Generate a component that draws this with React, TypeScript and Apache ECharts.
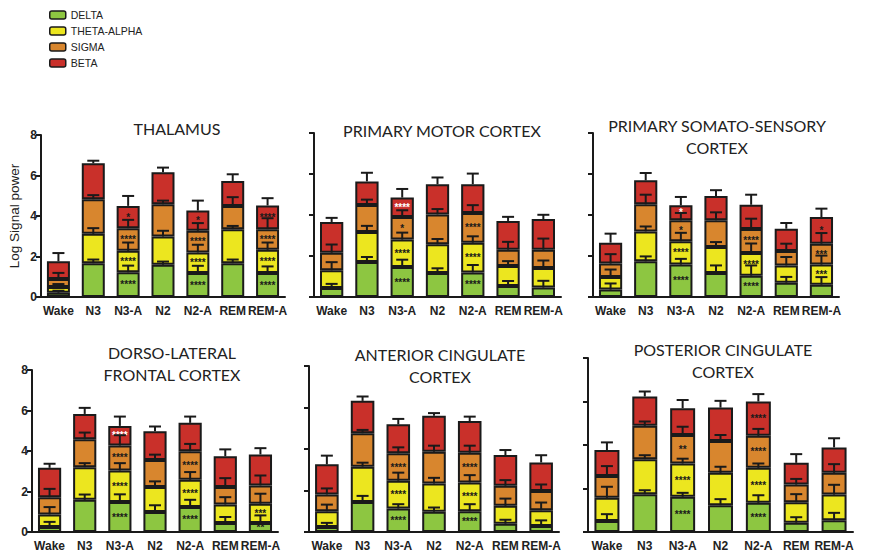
import React, { useEffect, useRef } from "react";
import * as echarts from "echarts";

const categories = ["Wake", "N3", "N3-A", "N2", "N2-A", "REM", "REM-A"];
const bands = ["DELTA", "THETA-ALPHA", "SIGMA", "BETA"];
const bandColors = ["#8dc641", "#ece61f", "#d8862e", "#c9302a"];
const yTicks = [0, 2, 4, 6, 8];

const panelTitles = [
  "THALAMUS",
  "PRIMARY MOTOR CORTEX",
  "PRIMARY SOMATO-SENSORY\nCORTEX",
  "DORSO-LATERAL\nFRONTAL CORTEX",
  "ANTERIOR CINGULATE\nCORTEX",
  "POSTERIOR CINGULATE\nCORTEX",
];

// segment heights (rows: DELTA, THETA-ALPHA, SIGMA, BETA)
const thalamusValues = [
  [0.21, 1.67, 1.22, 1.59, 1.18, 1.67, 1.18],
  [0.28, 1.45, 1.06, 1.4, 1.02, 1.68, 1.15],
  [0.4, 1.71, 1.12, 1.59, 1.07, 1.15, 1.02],
  [0.87, 1.77, 1.1, 1.58, 1.0, 1.23, 1.17],
];
const thalamusErrors = [
  [0.1, 0.18, 0.33, 0.16, 0.36, 0.18, 0.33],
  [0.15, 0.28, 0.41, 0.28, 0.38, 0.16, 0.36],
  [0.3, 0.2, 0.41, 0.18, 0.38, 0.43, 0.54],
  [0.41, 0.13, 0.49, 0.23, 0.49, 0.33, 0.36],
];
const thalamusStars = [
  ["", "", "****", "", "****", "", "****"],
  ["", "", "****", "", "****", "", "****"],
  ["", "", "****", "", "****", "", "****"],
  ["", "", "*", "", "*", "", "****"],
];

const motorValues = [
  [0.44, 1.71, 1.46, 1.17, 1.2, 0.54, 0.46],
  [0.86, 1.46, 1.34, 1.4, 1.45, 0.97, 0.95],
  [0.86, 1.32, 1.1, 1.46, 1.45, 0.8, 0.9],
  [1.5, 1.15, 0.95, 1.47, 1.4, 1.4, 1.49],
];
const motorErrors = [
  [0.2, 0.24, 0.36, 0.23, 0.36, 0.24, 0.33],
  [0.4, 0.3, 0.34, 0.26, 0.31, 0.24, 0.37],
  [0.4, 0.26, 0.33, 0.26, 0.38, 0.38, 0.54],
  [0.2, 0.42, 0.42, 0.33, 0.52, 0.2, 0.21],
];
const motorStars = [
  ["", "", "****", "", "****", "", ""],
  ["", "", "****", "", "****", "", ""],
  ["", "", "*", "", "****", "", ""],
  ["", "", "w****", "", "", "", ""],
];

const somatoValues = [
  [0.36, 1.74, 1.58, 1.17, 1.04, 0.7, 0.6],
  [0.62, 1.46, 1.14, 1.27, 1.11, 0.84, 0.98],
  [0.65, 1.32, 1.02, 1.3, 1.17, 0.7, 1.02],
  [1.02, 1.17, 0.73, 1.19, 1.18, 1.09, 1.3],
];
const somatoErrors = [
  [0.3, 0.24, 0.28, 0.37, 0.5, 0.28, 0.37],
  [0.36, 0.24, 0.41, 0.24, 0.46, 0.41, 0.44],
  [0.46, 0.47, 0.36, 0.39, 0.5, 0.36, 0.52],
  [0.44, 0.36, 0.41, 0.28, 0.49, 0.28, 0.41],
];
const somatoStars = [
  ["", "", "****", "", "****", "", ""],
  ["", "", "****", "", "****", "", "***"],
  ["", "", "*", "", "****", "", "***"],
  ["", "", "w*", "", "", "", "*"],
];

const dlpfcValues = [
  [0.25, 1.59, 1.48, 0.99, 1.23, 0.44, 0.44],
  [0.62, 1.61, 1.56, 1.23, 1.35, 0.92, 0.96],
  [0.85, 1.38, 1.23, 1.34, 1.41, 0.86, 0.9],
  [1.45, 1.25, 0.97, 1.42, 1.4, 1.52, 1.53],
];
const dlpfcErrors = [
  [0.25, 0.26, 0.38, 0.33, 0.36, 0.3, 0.38],
  [0.36, 0.2, 0.36, 0.28, 0.38, 0.36, 0.49],
  [0.41, 0.33, 0.51, 0.26, 0.36, 0.44, 0.49],
  [0.2, 0.3, 0.46, 0.23, 0.31, 0.34, 0.31],
];
const dlpfcStars = [
  ["", "", "****", "", "****", "", "**"],
  ["", "", "****", "", "****", "", "***"],
  ["", "", "****", "", "****", "", ""],
  ["", "", "w****", "", "", "", ""],
];

const accValues = [
  [0.24, 1.45, 1.13, 0.97, 1.0, 0.4, 0.29],
  [0.76, 1.7, 1.34, 1.37, 1.39, 0.86, 0.76],
  [0.81, 1.61, 1.32, 1.53, 1.43, 0.97, 0.92],
  [1.45, 1.56, 1.4, 1.73, 1.53, 1.48, 1.38],
];
const accErrors = [
  [0.2, 0.29, 0.21, 0.21, 0.34, 0.19, 0.27],
  [0.32, 0.19, 0.39, 0.27, 0.35, 0.35, 0.37],
  [0.29, 0.16, 0.29, 0.29, 0.34, 0.27, 0.32],
  [0.42, 0.21, 0.26, 0.13, 0.21, 0.24, 0.35],
];
const accStars = [
  ["", "", "****", "", "****", "", ""],
  ["", "", "****", "", "****", "", ""],
  ["", "", "****", "", "****", "", ""],
  ["", "", "", "", "", "", ""],
];

const pccValues = [
  [0.51, 1.74, 1.62, 1.23, 1.34, 0.43, 0.54],
  [1.06, 1.61, 1.53, 1.49, 1.61, 0.94, 1.18],
  [1.01, 1.53, 1.31, 1.46, 1.47, 0.81, 1.0],
  [1.19, 1.35, 1.23, 1.54, 1.58, 1.0, 1.17],
];
const pccErrors = [
  [0.31, 0.18, 0.18, 0.28, 0.35, 0.25, 0.34],
  [0.51, 0.18, 0.22, 0.28, 0.2, 0.37, 0.45],
  [0.45, 0.2, 0.38, 0.28, 0.32, 0.26, 0.4],
  [0.35, 0.23, 0.38, 0.31, 0.34, 0.4, 0.42],
];
const pccStars = [
  ["", "", "****", "", "****", "", ""],
  ["", "", "****", "", "****", "", ""],
  ["", "", "**", "", "****", "", ""],
  ["", "", "", "", "****", "", ""],
];

const panelValues = [thalamusValues, motorValues, somatoValues, dlpfcValues, accValues, pccValues];
const panelErrors = [thalamusErrors, motorErrors, somatoErrors, dlpfcErrors, accErrors, pccErrors];
const panelStars = [thalamusStars, motorStars, somatoStars, dlpfcStars, accStars, pccStars];

// layout (positions only)
const grids = [
  { left: 41, top: 135, width: 244, height: 162 },
  { left: 314, top: 133, width: 247, height: 164 },
  { left: 593, top: 133, width: 246, height: 164 },
  { left: 32, top: 370, width: 246, height: 162 },
  { left: 309, top: 366, width: 250, height: 166 },
  { left: 588, top: 358, width: 265, height: 174 },
];
const titlePos = [
  [177, 128],
  [442, 130],
  [717, 136],
  [172, 363],
  [440, 365],
  [723, 360],
];

const INK = "#1a1a1a";

export default function App() {
  const ref = useRef<HTMLDivElement>(null);
  useEffect(() => {
    if (!ref.current) return;
    const chart = echarts.init(ref.current, undefined, { renderer: "svg" });

    const xAxes: any[] = [];
    const yAxes: any[] = [];
    const series: any[] = [];

    grids.forEach((g, p) => {
      xAxes.push({
        type: "category",
        gridIndex: p,
        data: categories,
        axisLine: { lineStyle: { color: INK, width: 2 } },
        axisTick: { alignWithLabel: true, length: 5, lineStyle: { color: INK, width: 2 } },
        axisLabel: {
          color: "#222",
          fontFamily: "Liberation Sans",
          fontWeight: "bold",
          fontSize: 12,
          margin: 8,
          interval: 0,
        },
      });
      const showLabels = p === 0 || p === 3;
      yAxes.push({
        type: "value",
        gridIndex: p,
        min: yTicks[0],
        max: yTicks[yTicks.length - 1],
        interval: 2,
        splitLine: { show: false },
        axisLine: { show: true, lineStyle: { color: INK, width: 2 } },
        axisTick: { show: true, length: 5, lineStyle: { color: INK, width: 2 } },
        axisLabel: {
          show: showLabels,
          color: "#222",
          fontFamily: "Liberation Sans",
          fontWeight: "bold",
          fontSize: 12,
          margin: 4,
        },
        name: p === 0 ? "Log Signal power" : "",
        nameLocation: "middle",
        nameGap: 20,
        nameTextStyle: { color: "#222", fontFamily: "Liberation Sans", fontSize: 13.5 },
      });

      const vals = panelValues[p];
      const errs = panelErrors[p];
      const stars = panelStars[p];
      bands.forEach((b, bi) => {
        series.push({
          type: "bar",
          name: b,
          xAxisIndex: p,
          yAxisIndex: p,
          stack: "s" + p,
          barWidth: "66%",
          data: vals[bi],
          itemStyle: { color: bandColors[bi], borderColor: INK, borderWidth: 2 },
          label: {
            show: true,
            position: "inside",
            color: "#1a1a1a",
            fontSize: 10,
            fontWeight: "bold",
            fontFamily: "Liberation Sans",
            formatter: (prm: any) => {
              const s = stars[bi][prm.dataIndex];
              if (!s) return "";
              if (s[0] === "w") return "{w|" + s.slice(1) + "}";
              return s;
            },
            rich: {
              w: { color: "#ffffff", fontSize: 10, fontWeight: "bold", fontFamily: "Liberation Sans" },
            },
          },
          z: 2,
        });
      });

      // error bars at the top of each segment
      const errData: number[][] = [];
      for (let c = 0; c < categories.length; c++) {
        let cum = 0;
        for (let bi = 0; bi < bands.length; bi++) {
          cum += vals[bi][c];
          errData.push([c, cum, cum + errs[bi][c]]);
        }
      }
      series.push({
        type: "custom",
        name: "err" + p,
        xAxisIndex: p,
        yAxisIndex: p,
        z: 5,
        silent: true,
        encode: { x: 0, y: [1, 2] },
        data: errData,
        renderItem: (params: any, api: any) => {
          const c = api.value(0);
          const lo = api.coord([c, api.value(1)]);
          const hi = api.coord([c, api.value(2)]);
          const hw = 6;
          return {
            type: "group",
            children: [
              {
                type: "line",
                shape: { x1: lo[0], y1: lo[1], x2: hi[0], y2: hi[1] },
                style: { stroke: INK, lineWidth: 2 },
              },
              {
                type: "line",
                shape: { x1: hi[0] - hw, y1: hi[1], x2: hi[0] + hw, y2: hi[1] },
                style: { stroke: INK, lineWidth: 2 },
              },
            ],
          };
        },
      });
    });

    const graphics = panelTitles.map((t, i) => ({
      type: "text",
      x: titlePos[i][0],
      y: titlePos[i][1],
      style: {
        text: t,
        fill: "#222",
        font: "16px Lato",
        textAlign: "center",
        textVerticalAlign: "middle",
        lineHeight: 22,
      },
    }));

    chart.setOption({
      animation: false,
      backgroundColor: "#ffffff",
      grid: grids.map((g) => ({ ...g, containLabel: false })),
      xAxis: xAxes,
      yAxis: yAxes,
      legend: {
        data: bands,
        orient: "vertical",
        left: 49,
        top: 9,
        itemWidth: 16,
        itemHeight: 8,
        itemGap: 4,
        padding: 0,
        selectedMode: false,
        textStyle: { color: "#222", fontFamily: "Liberation Sans", fontSize: 10.5, lineHeight: 12 },
        itemStyle: { borderColor: INK, borderWidth: 1.5 },
      },
      graphic: graphics,
      series,
    });

    return () => chart.dispose();
  }, []);

  return (
    <div
      ref={ref}
      style={{ position: "fixed", left: 0, top: 0, width: 872, height: 559, background: "#fff" }}
    />
  );
}
